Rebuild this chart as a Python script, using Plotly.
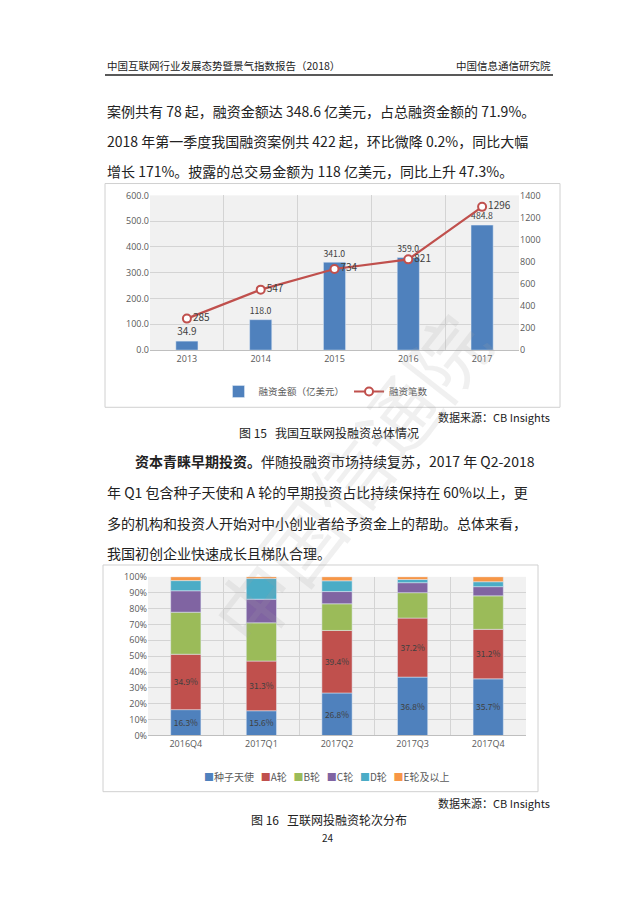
import plotly.graph_objects as go

# chart 1: overall financing
years = ["2013", "2014", "2015", "2016", "2017"]
amount = [34.9, 118.0, 341.0, 359.0, 484.8]   # 融资金额（亿美元）
deals = [285, 547, 734, 821, 1296]             # 融资笔数

# chart 2: share of each round (%)
quarters = ["2016Q4", "2017Q1", "2017Q2", "2017Q3", "2017Q4"]
seed = [16.3, 15.6, 26.8, 36.8, 35.7]
round_a = [34.9, 31.3, 39.4, 37.2, 31.2]
round_b = [26.5, 24.1, 16.8, 16.0, 21.1]
round_c = [13.5, 14.9, 7.7, 6.3, 5.8]
round_d = [6.4, 13.0, 6.8, 2.0, 3.1]
round_e = [2.4, 1.1, 2.5, 1.7, 3.1]
round_names = ["种子天使", "A轮", "B轮", "C轮", "D轮", "E轮及以上"]
round_colors = ["#4f81bd", "#c0504d", "#9bbb59", "#8064a2", "#4bacc6", "#f79646"]

W, H = 640, 905
CJK = "Noto Sans CJK SC"
GRAY = "#595959"


def px(x):
    return x / W


def py(y):
    return 1 - y / H


fig = go.Figure()

# ---- chart 1
fig.add_trace(go.Bar(
    x=years, y=amount, name="融资金额（亿美元）", marker_color="#4f81bd",
    text=[f"{v:.1f}" for v in amount], textposition="outside",
    textfont=dict(size=10, color="#404040"), cliponaxis=False, width=0.3,
    xaxis="x", yaxis="y"))
fig.add_trace(go.Scatter(
    x=years, y=deals, name="融资笔数", mode="lines+markers+text",
    line=dict(color="#c0504d", width=2.2),
    marker=dict(symbol="circle", size=8, color="white", line=dict(color="#c0504d", width=2)),
    text=[str(v) for v in deals], textposition="middle right",
    textfont=dict(size=10, color="#404040"), cliponaxis=False,
    xaxis="x", yaxis="y2"))

# ---- chart 2
series = [seed, round_a, round_b, round_c, round_d, round_e]
for i, (vals, nm, col) in enumerate(zip(series, round_names, round_colors)):
    fig.add_trace(go.Bar(
        x=quarters, y=vals, name=nm, marker_color=col, width=0.4, showlegend=False,
        text=[f"{v:.1f}%" for v in vals] if i < 2 else None,
        textposition="inside", insidetextanchor="middle", textangle=0,
        textfont=dict(size=9, color="#404040"),
        xaxis="x3", yaxis="y3"))

axis_common = dict(tickfont=dict(size=9, color=GRAY, family="Open Sans"),
                   gridcolor="#d4d4d4", zeroline=False)

fig.update_layout(
    width=W, height=H, margin=dict(l=0, r=0, t=0, b=0),
    paper_bgcolor="white", plot_bgcolor="#f1f1f1",
    font=dict(family=CJK, color="#333333"),
    barmode="relative",
    xaxis=dict(domain=[px(142), px(511)], anchor="y", type="category",
               tickson="boundaries", ticks="", showgrid=True,
               showline=True, linecolor="#bfbfbf", **axis_common),
    yaxis=dict(domain=[py(340), py(183)], anchor="x", range=[0, 600], dtick=100,
               tickformat=".1f", showgrid=True, **axis_common),
    yaxis2=dict(overlaying="y", side="right", anchor="x", range=[0, 1400], dtick=200,
                showgrid=False, **axis_common),
    xaxis3=dict(domain=[px(140), px(518)], anchor="y3", type="category",
                tickson="boundaries", ticks="", showgrid=True,
                showline=True, linecolor="#bfbfbf", **axis_common),
    yaxis3=dict(domain=[py(731), py(570)], anchor="x3", range=[0, 100], dtick=10,
                ticksuffix="%", showgrid=True, **axis_common),
    legend=dict(orientation="h", x=px(318), xanchor="center", y=py(382), yanchor="middle",
                font=dict(size=9.5, color=GRAY), bgcolor="rgba(0,0,0,0)",
                itemwidth=30, traceorder="normal", tracegroupgap=0),
)

shapes = [
    # header rule
    dict(type="line", xref="paper", yref="paper", x0=px(97), x1=px(545), y0=py(61), y1=py(61),
         line=dict(color="#222222", width=1.5)),
    # chart frames
    dict(type="rect", xref="paper", yref="paper", x0=px(97), x1=px(552), y0=py(398), y1=py(171),
         line=dict(color="#d0d0d0", width=1)),
    dict(type="rect", xref="paper", yref="paper", x0=px(95), x1=px(530), y0=py(788), y1=py(558),
         line=dict(color="#d0d0d0", width=1)),
]
fig.update_layout(shapes=shapes)


def text(s, x, y, size, anchor="left", color="#222222"):
    fig.add_annotation(text=s, x=px(x), y=py(y), xref="paper", yref="paper",
                       xanchor=anchor, yanchor="middle", showarrow=False,
                       font=dict(size=size, color=color, family=CJK))


# compact legend for the stacked chart
legend2 = "   ".join(f"<span style='color:{c}'>■</span>{n}" for n, c in zip(round_names, round_colors))
text(legend2, 318, 773, 10, anchor="center", color=GRAY)

text("中国互联网行业发展态势暨景气指数报告（2018）", 97, 51, 10.5)
text("中国信息通信研究院", 545, 51, 10.5, anchor="right")

body1 = [
    "案例共有 78 起，融资金额达 348.6 亿美元，占总融资金额的 71.9%。",
    "2018 年第一季度我国融资案例共 422 起，环比微降 0.2%，同比大幅",
    "增长 171%。披露的总交易金额为 118 亿美元，同比上升 47.3%。",
]
for i, s in enumerate(body1):
    text(s, 97, 97 + i * 30.5, 14)

text("数据来源：CB Insights", 544, 408, 11, anchor="right")
text("图 15   我国互联网投融资总体情况", 321, 424, 12, anchor="center")

text("<b>资本青睐早期投资。</b>伴随投融资市场持续复苏，2017 年 Q2-2018", 125, 453, 14)
body2 = [
    "年 Q1 包含种子天使和 A 轮的早期投资占比持续保持在 60%以上，更",
    "多的机构和投资人开始对中小创业者给予资金上的帮助。总体来看，",
    "我国初创企业快速成长且梯队合理。",
]
for i, s in enumerate(body2):
    text(s, 97, 484 + i * 31, 14)

text("数据来源：CB Insights", 544, 799, 11, anchor="right")
text("图 16   互联网投融资轮次分布", 321, 816, 12, anchor="center")
text("24", 320, 834, 10, anchor="center")

# faint watermark
fig.add_annotation(text="中国信通院", x=px(340), y=py(470), xref="paper", yref="paper",
                   showarrow=False, textangle=-52,
                   font=dict(size=78, color="rgba(160,160,160,0.16)", family=CJK))

fig.write_html("out.html")
